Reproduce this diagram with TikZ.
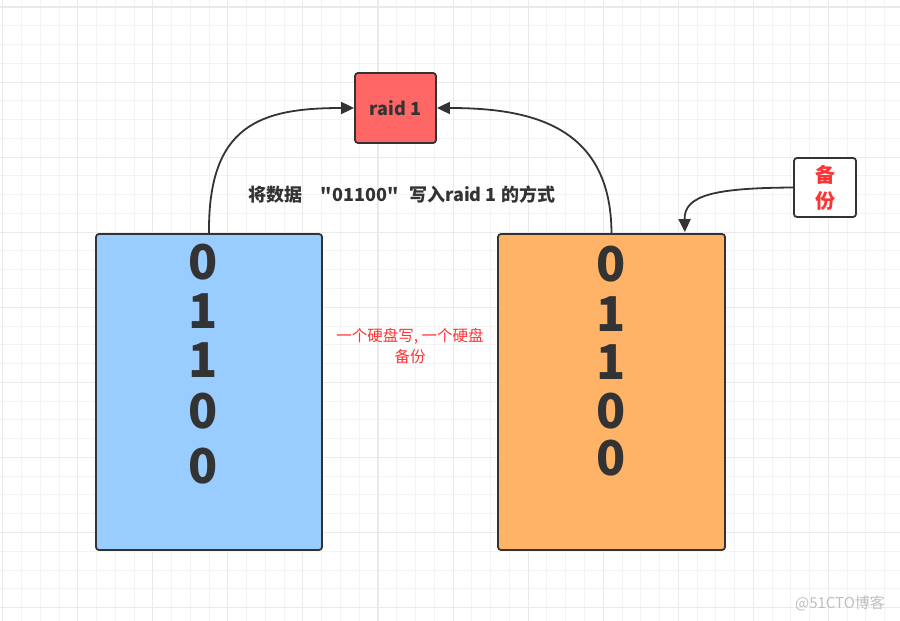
\documentclass[tikz,border=0pt]{standalone}
\usepackage{fontspec}
\setmainfont{Noto Sans CJK SC}
\newfontfamily\plainfont{Noto Sans CJK SC}
\usetikzlibrary{arrows.meta,calc}
\definecolor{ink}{HTML}{333333}
\definecolor{raidred}{HTML}{FF6666}
\definecolor{diskblue}{HTML}{99CCFF}
\definecolor{diskorange}{HTML}{FFB366}
\definecolor{notered}{HTML}{FF3333}
\definecolor{minorg}{HTML}{F3F3F3}
\definecolor{majorg}{HTML}{EAEAEA}
\tikzset{
  box/.style={draw=ink, line width=1.8pt, rounded corners=3pt, inner sep=0pt},
  conn/.style={draw=ink, line width=1.8pt, -{Triangle[length=13pt,width=12pt]}},
  digit/.style={text=ink, font=\fontsize{48}{48}\selectfont\bfseries, inner sep=0pt},
  minorline/.style={draw=minorg, line width=0.9pt},
  majorline/.style={draw=majorg, line width=1.1pt},
}
\begin{document}
\begin{tikzpicture}[x=1pt,y=-1pt]
\useasboundingbox (0,0) rectangle (900,621);
\fill[white] (0,0) rectangle (900,621);
% grid
\foreach \i in {0,...,48} \draw[minorline] ({2.7+18.765*\i},0) -- ({2.7+18.765*\i},621);
\foreach \i in {-1,...,33} \draw[minorline] (0,{7+18.765*\i}) -- (900,{7+18.765*\i});
\foreach \i in {0,...,12} \draw[majorline] ({2.7+75.06*\i},0) -- ({2.7+75.06*\i},621);
\foreach \i in {0,...,8} \draw[majorline] (0,{7+75.06*\i}) -- (900,{7+75.06*\i});
% raid node
\node[box, fill=raidred, minimum width=81pt, minimum height=70pt, text=ink,
      font=\fontsize{18}{18}\selectfont\bfseries] (raid) at (395.5,108) {raid 1};
% disks
\node[box, fill=diskblue, minimum width=226pt, minimum height=316pt] (left) at (209,392) {};
\node[box, fill=diskorange, minimum width=227pt, minimum height=316pt] (right) at (611.5,392) {};
\node[digit] (l1) at (203,262) {0};
\node[digit] (l2) at (203,311) {1};
\node[digit] (l3) at (203,360) {1};
\node[digit] (l4) at (203,411) {0};
\node[digit] (l5) at (203,466) {0};
\node[digit] (r1) at (611,264) {0};
\node[digit] (r2) at (611,314) {1};
\node[digit] (r3) at (611,362) {1};
\node[digit] (r4) at (611,411) {0};
\node[digit] (r5) at (611,458) {0};
% backup node
\node[box, fill=white, minimum width=62pt, minimum height=59pt, align=center, text=notered,
      font=\fontsize{20}{26}\selectfont\bfseries] (bak) at (825,187.5) {备\\份};
% texts
\node[text=ink, font=\plainfont\fontsize{18}{18}\selectfont\bfseries] (title) at (402,195) {将数据\hspace{18pt}"01100"\hspace{11pt}写入raid 1 的方式};
\node[text=notered, align=center, font=\fontsize{15.5}{21}\selectfont] (note) at (410,346) {一个硬盘写, 一个硬盘\\备份};
\node[text=black!25, font=\fontsize{15}{15}\selectfont] (wm) at (840,603) {@51CTO博客};
% connectors
\coordinate (rtarget) at ($(right.north east)+(-41,-1)$);
\draw[conn] (left.north) .. controls (208,125) and (260,108) .. (raid.west);
\draw[conn] (right.north) .. controls (611,125) and (530,108) .. (raid.east);
\draw[conn] (bak.west) .. controls (715,188) and (684,195) .. (rtarget);
\end{tikzpicture}
\end{document}
